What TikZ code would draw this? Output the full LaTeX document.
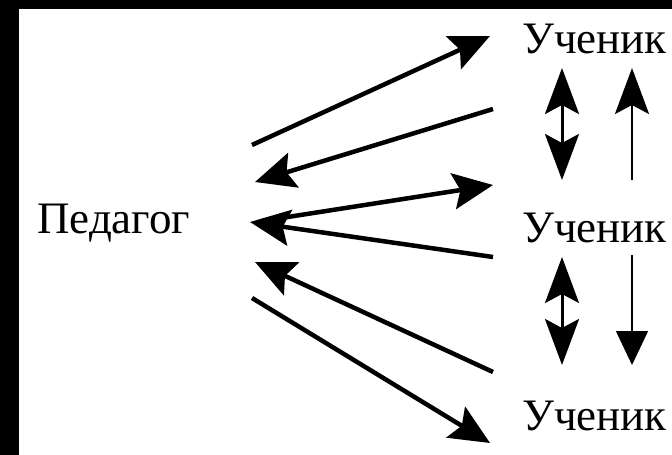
\documentclass[tikz,border=0pt]{standalone}
\usepackage{fontspec}
\setmainfont{Liberation Serif}
\usetikzlibrary{arrows.meta}
\tikzset{
  word/.style={inner sep=0pt, anchor=base west, font=\fontsize{45}{54}\selectfont},
  link/.style={line width=4.5pt, -{Stealth[length=40pt,width=36pt,inset=7pt]}},
  both/.style={line width=3pt, {Stealth[length=46pt,width=34pt,inset=9pt]}-{Stealth[length=46pt,width=34pt,inset=9pt]}},
  upone/.style={line width=2.5pt, -{Stealth[length=46pt,width=34pt,inset=9pt]}},
  downone/.style={line width=1.5pt, -{Triangle[length=34pt,width=32pt]}}
}
\begin{document}
\begin{tikzpicture}[x=1pt,y=-1pt]
% frame
\fill[black] (0,0) rectangle (672,455);
\fill[white] (19,9) rectangle (672,455);
% words
\node[word] (ped) at (37,233) {Педагог};
\node[word] (top) at (522,53) {Ученик};
\node[word] (mid) at (522,242) {Ученик};
\node[word] (bot) at (522,430) {Ученик};
% ends of the links
\coordinate (p1) at (252,145);
\coordinate (p2) at (255,182);
\coordinate (p3) at (262,221);
\coordinate (p4) at (250,222);
\coordinate (p5) at (255,262);
\coordinate (p6) at (252,298);
\coordinate (t1) at (490,36);
\coordinate (t2) at (493,109);
\coordinate (m1) at (493,185);
\coordinate (m2) at (493,257);
\coordinate (b1) at (493,372);
\coordinate (b2) at (490,443);
\draw[link] (p1) -- (t1);
\draw[link] (t2) -- (p2);
\draw[link] (p3) -- (m1);
\draw[link] (m2) -- (p4);
\draw[link] (b1) -- (p5);
\draw[link] (p6) -- (b2);
% between the pupils
\coordinate (a1) at (562,68);
\coordinate (a2) at (562,180);
\coordinate (c1) at (632,68);
\coordinate (c2) at (632,180);
\coordinate (a3) at (562,257);
\coordinate (a4) at (562,365);
\coordinate (c3) at (632,255);
\coordinate (c4) at (632,365);
\draw[both] (a1) -- (a2);
\draw[upone] (c2) -- (c1);
\draw[both] (a3) -- (a4);
\draw[downone] (c3) -- (c4);
\end{tikzpicture}
\end{document}
